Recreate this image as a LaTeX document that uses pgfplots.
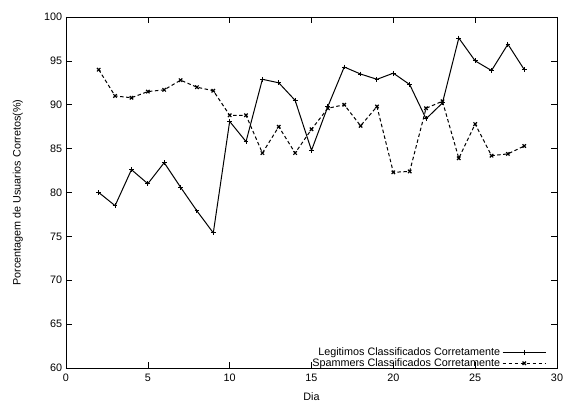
\documentclass[border=0pt]{standalone}
\usepackage{fontspec}
\setmainfont{Liberation Sans}
\usepackage{pgfplots}
\pgfplotsset{compat=1.18}
\begin{document}
\fontsize{10.8}{12}\selectfont
\begin{tikzpicture}
\begin{axis}[
  name=ax,
  scale only axis, width=491pt, height=351pt,
  xmin=0, xmax=30, ymin=60, ymax=100,
  xtick={0,5,...,30}, ytick={60,65,...,100},
  tick align=inside, major tick length=6pt,
  tick style={black, line width=0.6pt},
  axis line style={line width=0.8pt},
  /pgf/number format/assume math mode=true,
  tick label style={font=\fontsize{10.8}{12}\selectfont},
  xticklabel style={yshift=-2pt},
  xlabel={Dia}, ylabel={Porcentagem de Usuarios Corretos(\%)},
  label style={font=\fontsize{10.8}{12}\selectfont},
  xlabel style={yshift=-4pt},
  ylabel style={yshift=14pt},
  legend style={at={(0.985,-0.012)}, anchor=south east, draw=none, fill=none,
    font=\fontsize{10.8}{11}\selectfont, row sep=-2.5pt,
    cells={anchor=east}},
  legend plot pos=right,
  legend image code/.code={\draw[mark repeat=2,mark phase=2,#1] plot coordinates {(0.1cm,0cm) (0.86cm,0cm) (1.62cm,0cm)};},
  clip=false,
]
\addplot[black, line width=1pt, mark=+, mark size=2.4pt, mark options={solid}] coordinates {
(2,80.0) (3,78.5) (4,82.6) (5,81.0) (6,83.4) (7,80.6) (8,77.9) (9,75.4) (10,88.1)
(11,85.8) (12,92.9) (13,92.5) (14,90.5) (15,84.8) (16,89.8) (17,94.3) (18,93.5)
(19,92.9) (20,93.6) (21,92.3) (22,88.4) (23,90.2) (24,97.6) (25,95.0) (26,93.9)
(27,96.9) (28,94.0)};
\addlegendentry{Legitimos Classificados Corretamente}
\addplot[black, line width=1pt, dash pattern=on 3.5pt off 2.5pt, mark=x, mark size=2.4pt, mark options={solid, line width=1.2pt}] coordinates {
(2,94.0) (3,91.0) (4,90.8) (5,91.5) (6,91.7) (7,92.8) (8,92.0) (9,91.6) (10,88.8)
(11,88.8) (12,84.5) (13,87.5) (14,84.5) (15,87.2) (16,89.6) (17,90.0) (18,87.6)
(19,89.8) (20,82.3) (21,82.4) (22,89.6) (23,90.4) (24,83.9) (25,87.8) (26,84.2)
(27,84.4) (28,85.3)};
\addlegendentry{Spammers Classificados Corretamente}
\path (rel axis cs:0,0) ++(-66pt,-35pt) coordinate (bl);
\path (rel axis cs:1,1) ++(8pt,17pt) coordinate (tr);
\end{axis}
\pgfresetboundingbox
\useasboundingbox (bl) rectangle (tr);
\end{tikzpicture}
\end{document}
